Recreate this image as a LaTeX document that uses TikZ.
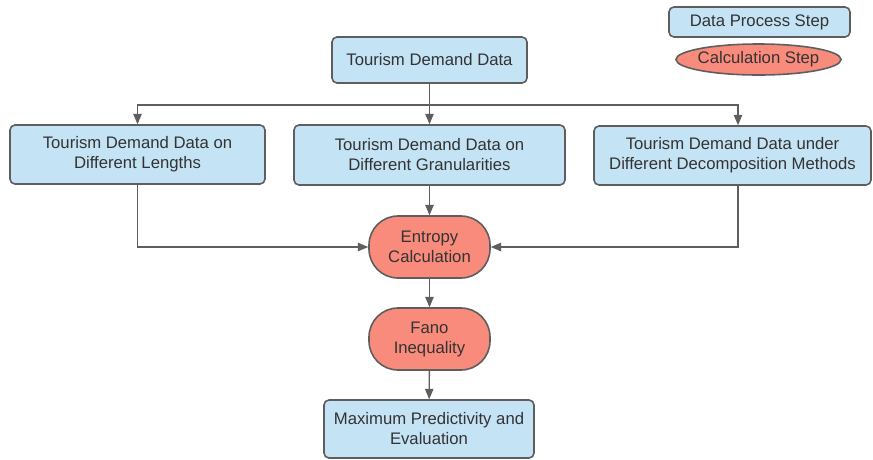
\documentclass[tikz,border=0pt]{standalone}
\usepackage{fontspec}
\setmainfont{Liberation Sans}
\usepackage{tikz}
\usetikzlibrary{arrows,shapes.geometric}

\definecolor{boxblue}{HTML}{C4E3F5}
\definecolor{calcred}{HTML}{F98B7C}
\definecolor{linegray}{HTML}{5E5E5E}
\definecolor{textgray}{HTML}{333333}

\begin{document}
\begin{tikzpicture}[x=1pt,y=-1pt]
					\tikzstyle{data}=[rectangle,rounded corners=5pt,draw=linegray,line width=1.6pt,fill=boxblue,text=textgray,align=center,font=\fontsize{16.7}{20}\selectfont,inner sep=2pt]
					\tikzstyle{calc}=[rectangle,rounded corners=29pt,draw=linegray,line width=1.6pt,fill=calcred,text=textgray,align=center,font=\fontsize{16.7}{20}\selectfont,minimum width=121pt,minimum height=62pt,inner sep=2pt]
					\tikzstyle{edge}=[draw=linegray,line width=1.4pt]
					\tikzstyle{arrow}=[edge,-triangle 45]
					\useasboundingbox (0,0) rectangle (873,459);
					% legend
					\node[data,minimum width=181pt,minimum height=30pt] (l1) at (759.5,22) {Data Process Step};
					\node[ellipse,draw=linegray,line width=1.6pt,fill=calcred,text=textgray,font=\fontsize{16.7}{20}\selectfont,minimum width=165pt,minimum height=31pt,inner xsep=-16pt,inner ysep=0pt] (l2) at (758.5,59.5) {Calculation Step};
					% flow
					\node[data,minimum width=195pt,minimum height=46pt] (1) at (429.5,60) {Tourism Demand Data};
					\node[data,minimum width=255pt,minimum height=59pt] (2) at (137.5,154.5) {Tourism Demand Data on\\Different Lengths};
					\node[data,minimum width=271pt,minimum height=60pt] (3) at (429.5,155) {Tourism Demand Data on\\Different Granularities};
					\node[data,minimum width=277pt,minimum height=59pt] (4) at (732.5,155.5) {Tourism Demand Data under\\Different Decomposition Methods};
					\node[calc] (5) at (429.5,247) {Entropy\\Calculation};
					\node[calc] (6) at (429.5,339) {Fano\\Inequality};
					\node[data,minimum width=210pt,minimum height=58pt] (7) at (429,429) {Maximum Predictivity and\\Evaluation};
					\coordinate (b) at (429.5,105);
					\draw[edge] (1) -- (b);
					\draw[arrow] (b) -| (2);
					\draw[arrow] (b) -- (3);
					\draw[arrow] (b) -| ([xshift=5.5pt]4.north);
					\draw[arrow] (2) |- (5);
					\draw[arrow] (3) -- (5);
					\draw[arrow] ([xshift=5.5pt]4.south) |- (5);
					\draw[arrow] (5) -- (6);
					\draw[arrow] (6) -- (7);
\end{tikzpicture}
\end{document}
